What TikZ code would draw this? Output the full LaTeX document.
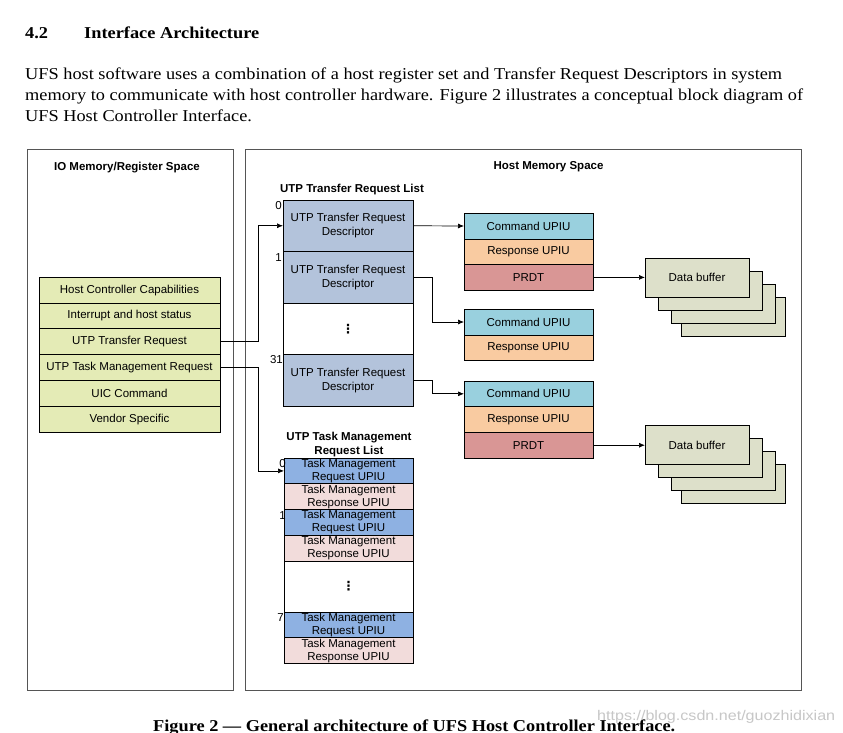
\documentclass[tikz,border=0pt]{standalone}
\usepackage{fontspec}
\usepackage{graphicx}
\setmainfont{Liberation Serif}
\setsansfont{Liberation Sans}
\newfontfamily\djv{DejaVu Sans}
\usetikzlibrary{arrows.meta}
\definecolor{regc}{HTML}{E4EBB6}
\definecolor{descc}{HTML}{B3C3DB}
\definecolor{cmdc}{HTML}{99D0DE}
\definecolor{rspc}{HTML}{F9CBA1}
\definecolor{prdc}{HTML}{D99695}
\definecolor{bufc}{HTML}{DDE0CA}
\definecolor{tmqc}{HTML}{8EB1E2}
\definecolor{tmrc}{HTML}{F2DCDB}
\definecolor{panelc}{HTML}{555555}
\newcommand\dfont{\sffamily\fontsize{11.5}{14}\selectfont}
\newcommand\tfont{\sffamily\fontsize{11.5}{13}\selectfont}
\newcommand\hfont{\sffamily\bfseries\fontsize{11.5}{14}\selectfont}
\newcommand\parafont{\rmfamily\fontsize{16.6}{20}\selectfont}
\newcommand\headfont{\rmfamily\bfseries\fontsize{16.6}{20}\selectfont}
\newcommand\dotsfont{\djv\bfseries\fontsize{12.5}{14}\selectfont}
\newsavebox\measbox
\begin{document}
\sbox\measbox{\parafont UFS host software uses a combination of a host register set and Transfer Request Descriptors in system}%
\pgfmathsetmacro\parsx{757/\wd\measbox}%
\sbox\measbox{\headfont Interface Architecture}%
\pgfmathsetmacro\headsx{175/\wd\measbox}%
\sbox\measbox{\headfont Figure 2 — General architecture of UFS Host Controller Interface.}%
\pgfmathsetmacro\capsx{522/\wd\measbox}%
\begin{tikzpicture}[x=1pt,y=-1pt,
  box/.style={draw=black, line width=0.7pt, inner sep=0pt, outer sep=0pt, font=\dfont, align=center, text=black},
  reg/.style={box, fill=regc, minimum width=181pt, minimum height=25.8pt},
  desc/.style={box, fill=descc, minimum width=130pt, minimum height=51.5pt},
  blank/.style={box, fill=white, minimum width=130pt, minimum height=51.5pt},
  upiu/.style={box, minimum width=129pt, minimum height=25.7pt},
  buf/.style={box, fill=bufc, minimum width=104pt, minimum height=39pt},
  tm/.style={box, font=\tfont, minimum width=129pt, minimum height=25.75pt},
  panel/.style={draw=panelc, line width=1pt},
  idx/.style={font=\dfont, inner sep=0pt, anchor=east},
  title/.style={font=\hfont, align=center, inner sep=0pt},
  arr/.style={draw=black, line width=0.7pt, -{Latex[length=6pt,width=5pt]}},
  txt/.style={inner sep=0pt, anchor=base west}
]
\useasboundingbox (0,0) rectangle (843,732);
\fill[white] (0,0) rectangle (843,732);

% ---- heading and paragraph ----
\node[txt] (secnum) at (25,38) {\scalebox{\headsx}[1]{\headfont 4.2}};
\node[txt] (sectitle) at (84,38) {\scalebox{\headsx}[1]{\headfont Interface Architecture}};
\node[txt] (p1) at (25,79) {\scalebox{\parsx}[1]{\parafont UFS host software uses a combination of a host register set and Transfer Request Descriptors in system}};
\node[txt] (p2) at (25,100) {\scalebox{\parsx}[1]{\parafont memory to communicate with host controller hardware. Figure 2 illustrates a conceptual block diagram of}};
\node[txt] (p3) at (25,121) {\scalebox{\parsx}[1]{\parafont UFS Host Controller Interface.}};

% ---- panels ----
\draw[panel] (27,149) rectangle (233,690);
\draw[panel] (245,149) rectangle (801,690);
\node[title] (ioh) at (127,168) {IO Memory/Register Space};
\node[title] (hmh) at (548.5,167) {Host Memory Space};

% ---- register set ----
\node[reg] (hcc) at (129.5,290.1) {Host Controller Capabilities};
\node[reg] (ihs) at (129.5,315.9) {Interrupt and host status};
\node[reg] (utr) at (129.5,341.7) {UTP Transfer Request};
\node[reg] (utm) at (129.5,367.5) {UTP Task Management Request};
\node[reg] (uic) at (129.5,393.3) {UIC Command};
\node[reg] (vs)  at (129.5,419.1) {Vendor Specific};

% ---- transfer request list ----
\node[title] (trl) at (352,190) {UTP Transfer Request List};
\node[desc] (d0)  at (348,225.75) {UTP Transfer Request\\Descriptor};
\node[desc] (d1)  at (348,277.25) {UTP Transfer Request\\Descriptor};
\node[blank] (dd) at (348,328.75) {\dotsfont ⋮};
\node[desc] (d31) at (348,380.25) {UTP Transfer Request\\Descriptor};
\node[idx] (i0)  at (282,206) {0};
\node[idx] (i1)  at (282,258) {1};
\node[idx] (i31) at (283,360) {31};

% ---- UPIU groups ----
\node[upiu, fill=cmdc] (c1) at (528.5,226) {Command UPIU};
\node[upiu, fill=rspc] (r1) at (528.5,251.7) {Response UPIU};
\node[upiu, fill=prdc] (pr1) at (528.5,277.4) {PRDT};
\node[upiu, fill=cmdc] (c2) at (528.5,322) {Command UPIU};
\node[upiu, fill=rspc] (r2) at (528.5,347.7) {Response UPIU};
\node[upiu, fill=cmdc] (c3) at (528.5,393.8) {Command UPIU};
\node[upiu, fill=rspc] (r3) at (528.5,419.5) {Response UPIU};
\node[upiu, fill=prdc] (pr3) at (528.5,445.2) {PRDT};

% ---- data buffers ----
\node[buf] (b1d) at (733,316.5) {};
\node[buf] (b1c) at (723,303.5) {};
\node[buf] (b1b) at (710,290.5) {};
\node[buf] (db1) at (697,277.4) {Data buffer};
\node[buf] (b2d) at (733,484.2) {};
\node[buf] (b2c) at (723,471.2) {};
\node[buf] (b2b) at (710,458.2) {};
\node[buf] (db2) at (697,445.2) {Data buffer};

% ---- task management list ----
\node[title] (tml) at (349,445) {UTP Task Management\\Request List};
\node[tm, fill=tmqc] (t0q) at (348.5,470.9) {Task Management\\Request UPIU};
\node[tm, fill=tmrc] (t0r) at (348.5,496.6) {Task Management\\Response UPIU};
\node[tm, fill=tmqc] (t1q) at (348.5,522.4) {Task Management\\Request UPIU};
\node[tm, fill=tmrc] (t1r) at (348.5,548.1) {Task Management\\Response UPIU};
\node[box, fill=white, minimum width=129pt, minimum height=51pt] (td) at (348.5,586.5) {\dotsfont ⋮};
\node[tm, fill=tmqc] (t7q) at (348.5,624.9) {Task Management\\Request UPIU};
\node[tm, fill=tmrc] (t7r) at (348.5,650.6) {Task Management\\Response UPIU};
\node[idx] (j0) at (286,464) {0};
\node[idx] (j1) at (286,516) {1};
\node[idx] (j7) at (284,618) {7};

% ---- connectors ----
\draw[arr] (utr.east) -- ++(38,0) |- (d0.west);
\draw[arr] (utm.east) -- ++(38,0) |- (t0q.west);
\draw[arr] (d0.east) -- (c1.west);
\draw[arr] (d1.east) -- ++(19,0) |- (c2.west);
\draw[arr] (d31.east) -- ++(19,0) |- (c3.west);
\draw[arr] (pr1.east) -- (db1.west);
\draw[arr] (pr3.east) -- (db2.west);

% ---- caption and watermark ----
\node[txt] (cap) at (153,731) {\scalebox{\capsx}[1]{\headfont Figure 2 — General architecture of UFS Host Controller Interface.}};
\node[txt, text=black!22] (wm) at (597,720) {\resizebox{238pt}{\height}{\sffamily\fontsize{14}{16}\selectfont https://blog.csdn.net/guozhidixian}};
\end{tikzpicture}
\end{document}
